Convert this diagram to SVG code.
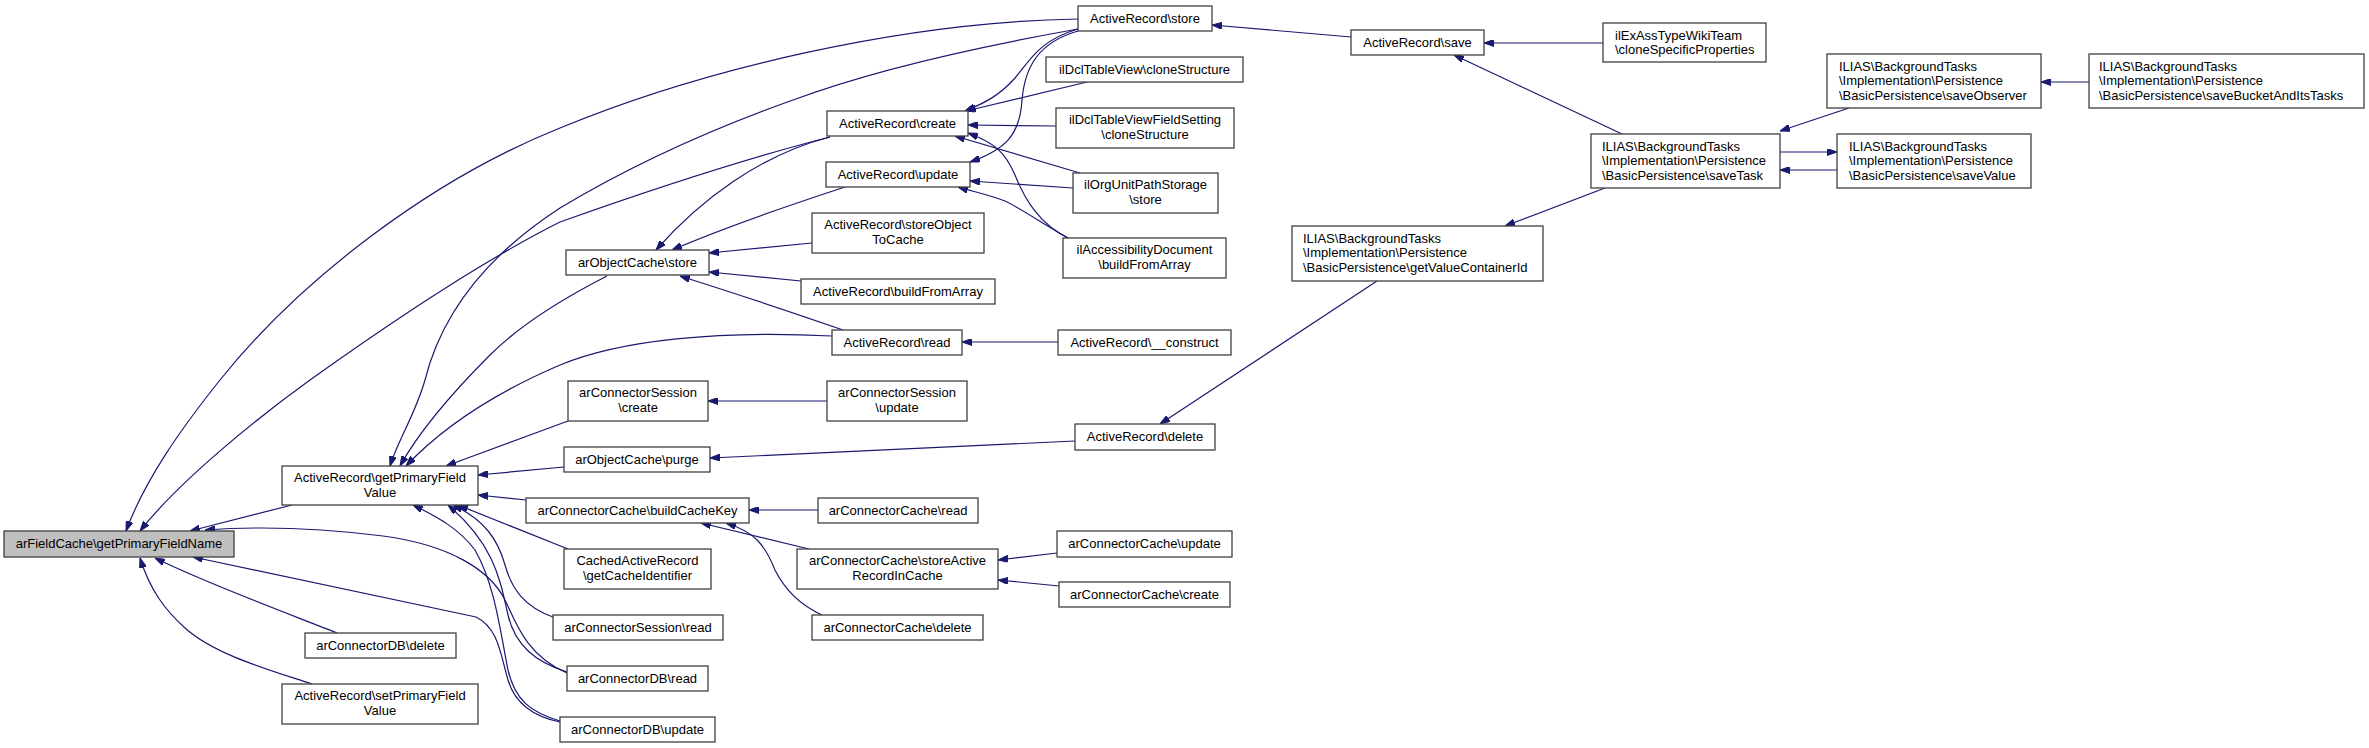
<svg xmlns="http://www.w3.org/2000/svg" width="2369" height="748" viewBox="0 0 2369 748">
<defs>
<style>
.n rect{fill:#ffffff;stroke:#404040;stroke-width:1.3}
.n.main rect{fill:#bfbfbf}
.n text{font-family:"Liberation Sans",Arial,sans-serif;font-size:13px;fill:#000}
.c text{text-anchor:middle}
.e path{fill:none;stroke:#191970;stroke-width:1.2;marker-end:url(#ah)}
</style>
<marker id="ah" markerWidth="10" markerHeight="7" refX="10" refY="3.5" orient="auto" markerUnits="userSpaceOnUse">
<path d="M0,0 L10,3.5 L0,7 z" fill="#191970" stroke="#191970" stroke-width="1"/>
</marker>
</defs>
<rect width="2369" height="748" fill="#ffffff"/>
<g id="connectors" class="e">
<path d="M1078,19 C900,22 700,70 560,128 C430,180 300,280 220,380 C180,430 145,480 126,531"/>
<path d="M830,137 C740,160 650,190 560,222 C480,262 380,330 310,380 C260,416 180,480 140,531"/>
<path d="M1078,29 C960,50 860,75 793,100 C720,126 640,160 560,208 C480,260 440,320 425,380 C415,415 398,440 390,466"/>
<path d="M292,505 L190,531"/>
<path d="M567,673 C525,655 515,620 505,600 C490,570 450,545 383,536 C320,528 260,526 205,530"/>
<path d="M560,722 C530,716 514,700 508,680 C500,652 498,628 476,617 L193,557"/>
<path d="M337,633 C300,618 210,585 155,558"/>
<path d="M312,684 C270,670 215,655 185,628 C165,610 150,590 140,558"/>
<path d="M607,276 C560,300 520,325 490,355 C450,395 420,430 400,466"/>
<path d="M832,336 C720,330 620,340 560,365 C490,395 440,430 406,466"/>
<path d="M568,421 L446,466"/>
<path d="M564,467 L478,475"/>
<path d="M526,500 L478,495"/>
<path d="M568,549 L458,505"/>
<path d="M553,617 C525,607 512,590 505,565 C498,540 485,520 453,505"/>
<path d="M567,672 C535,662 515,645 508,615 C500,580 495,545 448,505"/>
<path d="M560,721 C530,712 515,700 508,670 C500,630 495,585 475,550 C460,530 440,518 413,505"/>
<path d="M830,137 C760,155 700,200 656,250"/>
<path d="M845,187 C790,205 730,225 672,250"/>
<path d="M812,243 L709,253"/>
<path d="M801,281 L709,272"/>
<path d="M843,330 C800,315 740,295 680,276"/>
<path d="M1058,342 L962,342"/>
<path d="M827,401 L708,401"/>
<path d="M1075,441 L710,458"/>
<path d="M818,510 L749,510"/>
<path d="M809,549 L701,523"/>
<path d="M822,615 C800,605 785,590 775,570 C765,545 755,532 726,523"/>
<path d="M1057,553 L998,560"/>
<path d="M1059,586 L998,580"/>
<path d="M1078,29 C1040,40 1030,60 1015,78 C1000,95 985,103 965,111"/>
<path d="M1078,31 C1040,42 1025,65 1022,100 C1020,135 1005,150 970,162"/>
<path d="M1087,82 L966,111"/>
<path d="M1056,126 L968,125"/>
<path d="M1080,173 L955,136"/>
<path d="M1073,188 L970,181"/>
<path d="M1070,239 C1040,225 1025,200 1015,175 C1005,152 995,143 968,133"/>
<path d="M1068,238 C1040,222 1020,208 1005,201 C990,195 975,192 958,187"/>
<path d="M1351,37 L1212,25"/>
<path d="M1377,281 L1160,424"/>
<path d="M1603,43 L1484,43"/>
<path d="M1622,134 L1454,55"/>
<path d="M1605,188 L1505,226"/>
<path d="M1849,108 L1780,131"/>
<path d="M1780,152 L1837,152"/>
<path d="M1837,170 L1780,170"/>
<path d="M2089,82 L2041,82"/>
</g>
<g id="n1" class="n c main"><rect x="4" y="531" width="230" height="26"/><text x="119" y="548">arFieldCache\getPrimaryFieldName</text></g>
<g id="n2" class="n c"><rect x="282" y="466" width="196" height="39"/><text x="380" y="482">ActiveRecord\getPrimaryField</text><text x="380" y="497">Value</text></g>
<g id="n3" class="n c"><rect x="305" y="633" width="151" height="25"/><text x="380.5" y="650">arConnectorDB\delete</text></g>
<g id="n4" class="n c"><rect x="282" y="684" width="196" height="40"/><text x="380" y="700">ActiveRecord\setPrimaryField</text><text x="380" y="715">Value</text></g>
<g id="n5" class="n c"><rect x="1078" y="6" width="134" height="25"/><text x="1145" y="23">ActiveRecord\store</text></g>
<g id="n6" class="n c"><rect x="1046" y="57" width="197" height="25"/><text x="1144.5" y="74">ilDclTableView\cloneStructure</text></g>
<g id="n7" class="n c"><rect x="827" y="111" width="141" height="25"/><text x="897.5" y="128">ActiveRecord\create</text></g>
<g id="n8" class="n c"><rect x="1056" y="108" width="178" height="40"/><text x="1145" y="124">ilDclTableViewFieldSetting</text><text x="1145" y="139">\cloneStructure</text></g>
<g id="n9" class="n c"><rect x="826" y="162" width="144" height="25"/><text x="898" y="179">ActiveRecord\update</text></g>
<g id="n10" class="n c"><rect x="1073" y="173" width="145" height="40"/><text x="1145.5" y="189">ilOrgUnitPathStorage</text><text x="1145.5" y="204">\store</text></g>
<g id="n11" class="n c"><rect x="812" y="213" width="172" height="40"/><text x="898" y="229">ActiveRecord\storeObject</text><text x="898" y="244">ToCache</text></g>
<g id="n12" class="n c"><rect x="1063" y="238" width="163" height="40"/><text x="1144.5" y="254">ilAccessibilityDocument</text><text x="1144.5" y="269">\buildFromArray</text></g>
<g id="n13" class="n c"><rect x="566" y="250" width="143" height="25"/><text x="637.5" y="267">arObjectCache\store</text></g>
<g id="n14" class="n c"><rect x="801" y="279" width="194" height="25"/><text x="898" y="296">ActiveRecord\buildFromArray</text></g>
<g id="n15" class="n c"><rect x="832" y="330" width="130" height="25"/><text x="897" y="347">ActiveRecord\read</text></g>
<g id="n16" class="n c"><rect x="1058" y="330" width="173" height="25"/><text x="1144.5" y="347">ActiveRecord\__construct</text></g>
<g id="n17" class="n c"><rect x="568" y="381" width="140" height="40"/><text x="638" y="397">arConnectorSession</text><text x="638" y="412">\create</text></g>
<g id="n18" class="n c"><rect x="827" y="381" width="140" height="40"/><text x="897" y="397">arConnectorSession</text><text x="897" y="412">\update</text></g>
<g id="n19" class="n c"><rect x="1075" y="424" width="140" height="26"/><text x="1145" y="441">ActiveRecord\delete</text></g>
<g id="n20" class="n c"><rect x="564" y="447" width="146" height="25"/><text x="637" y="464">arObjectCache\purge</text></g>
<g id="n21" class="n c"><rect x="526" y="498" width="223" height="25"/><text x="637.5" y="515">arConnectorCache\buildCacheKey</text></g>
<g id="n22" class="n c"><rect x="818" y="498" width="160" height="25"/><text x="898" y="515">arConnectorCache\read</text></g>
<g id="n23" class="n c"><rect x="1057" y="531" width="175" height="26"/><text x="1144.5" y="548">arConnectorCache\update</text></g>
<g id="n24" class="n c"><rect x="797" y="549" width="201" height="40"/><text x="897.5" y="565">arConnectorCache\storeActive</text><text x="897.5" y="580">RecordInCache</text></g>
<g id="n25" class="n c"><rect x="564" y="549" width="147" height="40"/><text x="637.5" y="565">CachedActiveRecord</text><text x="637.5" y="580">\getCacheIdentifier</text></g>
<g id="n26" class="n c"><rect x="1059" y="582" width="171" height="25"/><text x="1144.5" y="599">arConnectorCache\create</text></g>
<g id="n27" class="n c"><rect x="553" y="615" width="170" height="25"/><text x="638" y="632">arConnectorSession\read</text></g>
<g id="n28" class="n c"><rect x="812" y="615" width="171" height="25"/><text x="897.5" y="632">arConnectorCache\delete</text></g>
<g id="n29" class="n c"><rect x="567" y="666" width="141" height="25"/><text x="637.5" y="683">arConnectorDB\read</text></g>
<g id="n30" class="n c"><rect x="560" y="717" width="155" height="25"/><text x="637.5" y="734">arConnectorDB\update</text></g>
<g id="n31" class="n c"><rect x="1351" y="30" width="133" height="25"/><text x="1417.5" y="47">ActiveRecord\save</text></g>
<g id="n32" class="n"><rect x="1603" y="23" width="163" height="39"/><text x="1615" y="39.5">ilExAssTypeWikiTeam</text><text x="1615" y="53.5">\cloneSpecificProperties</text></g>
<g id="n33" class="n"><rect x="1591" y="134" width="189" height="54"/><text x="1602" y="150.5">ILIAS\BackgroundTasks</text><text x="1602" y="165">\Implementation\Persistence</text><text x="1602" y="179.5">\BasicPersistence\saveTask</text></g>
<g id="n34" class="n"><rect x="1292" y="226" width="251" height="55"/><text x="1303" y="242.5">ILIAS\BackgroundTasks</text><text x="1303" y="257">\Implementation\Persistence</text><text x="1303" y="271.5">\BasicPersistence\getValueContainerId</text></g>
<g id="n35" class="n"><rect x="1827" y="54" width="214" height="54"/><text x="1839" y="70.5">ILIAS\BackgroundTasks</text><text x="1839" y="85">\Implementation\Persistence</text><text x="1839" y="99.5">\BasicPersistence\saveObserver</text></g>
<g id="n36" class="n"><rect x="2089" y="54" width="275" height="54"/><text x="2099" y="70.5">ILIAS\BackgroundTasks</text><text x="2099" y="85">\Implementation\Persistence</text><text x="2099" y="99.5">\BasicPersistence\saveBucketAndItsTasks</text></g>
<g id="n37" class="n"><rect x="1837" y="134" width="194" height="54"/><text x="1849" y="150.5">ILIAS\BackgroundTasks</text><text x="1849" y="165">\Implementation\Persistence</text><text x="1849" y="179.5">\BasicPersistence\saveValue</text></g>
</svg>
